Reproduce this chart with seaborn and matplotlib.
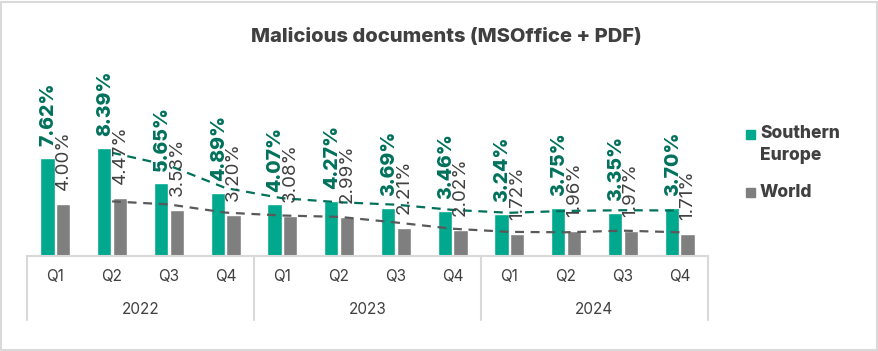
import numpy as np
import pandas as pd
import seaborn as sns
import matplotlib.pyplot as plt
from matplotlib.patches import Rectangle

# data
quarters = ['Q1', 'Q2', 'Q3', 'Q4'] * 3
years = ['2022', '2023', '2024']
southern_europe = [7.62, 8.39, 5.65, 4.89, 4.07, 4.27, 3.69, 3.46, 3.24, 3.75, 3.35, 3.70]
world = [4.00, 4.47, 3.53, 3.20, 3.08, 2.99, 2.21, 2.02, 1.72, 1.96, 1.97, 1.71]

green = '#00A88E'
green_dark = '#00715B'
grey = '#7F7F7F'
text_col = '#404040'

sns.set_theme(style='white')
plt.rcParams['font.family'] = ['Inter', 'DejaVu Sans']

n = len(southern_europe)
df = pd.DataFrame({
    'idx': list(range(n)) * 2,
    'value': southern_europe + world,
    'series': ['Southern Europe'] * n + ['World'] * n,
})

fig = plt.figure(figsize=(8.79, 3.51), dpi=100)
W, H = 879, 351
ax = fig.add_axes([27 / W, (H - 256) / H, (708 - 27) / W, (256 - 60) / H])

sns.barplot(data=df, x='idx', y='value', hue='series', palette=[green, grey],
            width=0.56, gap=0.1, ax=ax, legend=False, saturation=1)
ax.set_xlim(-0.5, n - 0.5)
ax.set_ylim(0, 15.2)

# 2-period moving average trend lines
x = np.arange(n)
se_ma = pd.Series(southern_europe).rolling(2).mean()
w_ma = pd.Series(world).rolling(2).mean()
ax.plot(x, se_ma, ls=(0, (4, 3)), color=green_dark, lw=1.6, zorder=3)
ax.plot(x, w_ma, ls=(0, (4, 3)), color='#595959', lw=1.6, zorder=3)

# value labels
off = 0.56 * 0.5 / 2
for i in range(n):
    ax.annotate(f'{southern_europe[i]:.2f}%', (i - off + 0.02, southern_europe[i]),
                xytext=(0, 12), textcoords='offset pixels', rotation=90,
                ha='center', va='bottom', fontsize=14, fontweight='heavy',
                color=green_dark, zorder=4)
    ax.annotate(f'{world[i]:.2f}%', (i + off, world[i]),
                xytext=(0, 14), textcoords='offset pixels', rotation=90,
                ha='center', va='bottom', fontsize=13.5, color=text_col, zorder=4)

# category axis
for s in ['top', 'right', 'left']:
    ax.spines[s].set_visible(False)
ax.spines['bottom'].set_color('#D9D9D9')
ax.spines['bottom'].set_linewidth(1.5)
ax.set_yticks([])
ax.set_xticks(x)
ax.set_xticklabels(quarters, fontsize=11, color=text_col)
ax.tick_params(axis='x', length=0, pad=9)
ax.set_xlabel('')
ax.set_ylabel('')

tr = ax.get_xaxis_transform()
for b in [-0.5, 3.5, 7.5, 11.5]:
    ax.plot([b, b], [0, -64 / 196], transform=tr, color='#D9D9D9', lw=1.5, clip_on=False)
for k, yr in enumerate(years):
    ax.text(4 * k + 1.5, -54 / 196, yr, transform=tr, ha='center', va='center',
            fontsize=11, color=text_col)

# title
fig.text(446 / W, 1 - 37 / H, 'Malicious documents (MSOffice + PDF)', ha='center', va='center',
         fontsize=14.5, fontweight='heavy', color=text_col)

# legend
fig.patches.append(Rectangle((746 / W, 1 - 139 / H), 9 / W, 9 / H, transform=fig.transFigure,
                             color=green))
fig.text(760 / W, 1 - 134 / H, 'Southern', ha='left', va='center', fontsize=12.5,
         fontweight='heavy', color=text_col)
fig.text(760 / W, 1 - 155 / H, 'Europe', ha='left', va='center', fontsize=12.5,
         fontweight='heavy', color=text_col)
fig.patches.append(Rectangle((746 / W, 1 - 197 / H), 9 / W, 9 / H, transform=fig.transFigure,
                             color=grey))
fig.text(760 / W, 1 - 192 / H, 'World', ha='left', va='center', fontsize=12.5,
         fontweight='heavy', color=text_col)

# outer border
fig.patches.append(Rectangle((1 / W, 1 / H), 1 - 3 / W, 1 - 3 / H, transform=fig.transFigure,
                             fill=False, edgecolor='#D9D9D9', lw=1.5))

fig.savefig('out.png', dpi=100)
